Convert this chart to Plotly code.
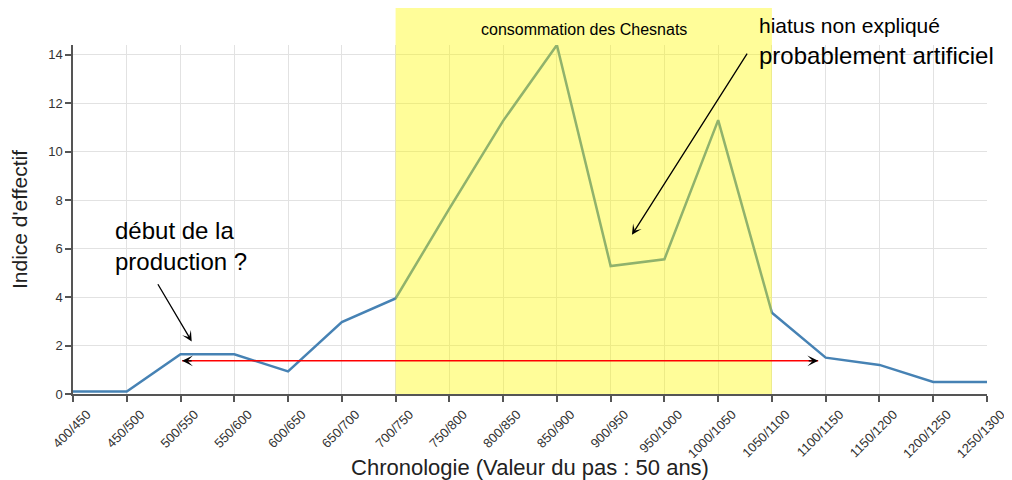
import plotly.graph_objects as go

categories = ["400/450", "450/500", "500/550", "550/600", "600/650", "650/700",
              "700/750", "750/800", "800/850", "850/900", "900/950", "950/1000",
              "1000/1050", "1050/1100", "1100/1150", "1150/1200", "1200/1250", "1250/1300"]
indice = [0.1, 0.1, 1.64, 1.64, 0.93, 2.97, 3.94, 7.65, 11.27, 14.4,
          5.28, 5.56, 11.3, 3.35, 1.5, 1.2, 0.5, 0.5]
periode_start = "700/750"
periode_end = "1050/1100"
periode_label = "consommation des Chesnats"
hiatus_lines = ["hiatus non expliqué", "probablement artificiel"]
debut_lines = ["début de la", "production ?"]

FONT = "Liberation Sans, Arial, sans-serif"
i0 = categories.index(periode_start)
i1 = categories.index(periode_end)

fig = go.Figure()
fig.add_trace(go.Scatter(x=categories, y=indice, mode="lines",
                         line=dict(color="#4682b4", width=2.5),
                         hoverinfo="x+y", showlegend=False))

fig.add_shape(type="rect", xref="x", yref="paper", x0=i0, x1=i1, y0=0, y1=1.106,
              fillcolor="rgba(255,250,0,0.40)", line=dict(width=0), layer="above")

# red double-headed span line
fig.add_shape(type="line", xref="x", yref="y", x0=2.03, x1=13.86, y0=1.37, y1=1.37,
              line=dict(color="#ff0000", width=1.4), layer="above")

annotations = []
for tip, off in [(2.03, 11), (13.86, -11)]:
    annotations.append(dict(x=tip, y=1.37, xref="x", yref="y", ax=off, ay=0,
                            showarrow=True, arrowhead=3, arrowsize=1.5, arrowwidth=1.2,
                            arrowcolor="#000", text=""))
# black pointer arrows
annotations.append(dict(x=2.208, y=2.17, ax=1.5625, ay=4.59, xref="x", yref="y",
                        axref="x", ayref="y", showarrow=True, arrowhead=3,
                        arrowsize=1.3, arrowwidth=1.3, arrowcolor="#000", text=""))
annotations.append(dict(x=10.396, y=6.57, ax=12.556, ay=14.11, xref="x", yref="y",
                        axref="x", ayref="y", showarrow=True, arrowhead=3,
                        arrowsize=1.3, arrowwidth=1.3, arrowcolor="#000", text=""))
# texts
annotations.append(dict(x=(i0 + i1) / 2, y=1.043, xref="x", yref="paper",
                        xanchor="center", yanchor="middle", showarrow=False,
                        text=periode_label, font=dict(family=FONT, size=16, color="#000")))
hiatus_text = ('<span style="font-size:21px">' + hiatus_lines[0] + "</span><br>"
               + hiatus_lines[1])
annotations.append(dict(x=12.72, y=1.010, xref="x", yref="paper", xanchor="left",
                        yanchor="middle", align="left", showarrow=False,
                        text=hiatus_text,
                        font=dict(family=FONT, size=24, color="#000")))
annotations.append(dict(x=0.745, y=6.09, xref="x", yref="y", xanchor="left",
                        yanchor="middle", align="left", showarrow=False,
                        text="<br>".join(debut_lines),
                        font=dict(family=FONT, size=24, color="#000")))

fig.update_layout(
    width=1004, height=472,
    margin=dict(l=65, r=25, t=37, b=86),
    paper_bgcolor="white", plot_bgcolor="white",
    font=dict(family=FONT, color="#333"),
    annotations=annotations,
    xaxis=dict(type="category", categoryorder="array", categoryarray=categories,
               range=[0, len(categories) - 1], showgrid=True, gridcolor="#e2e2e2",
               gridwidth=1, showline=True, linecolor="#555", linewidth=1.5,
               ticks="outside", ticklen=6, tickcolor="#555", tickwidth=1.5,
               tickangle=-45, tickfont=dict(size=13, color="#333"), automargin=False,
               ticklabelshift=14,
               title=dict(text="Chronologie (Valeur du pas : 50 ans)",
                          font=dict(size=22, color="#222"), standoff=5)),
    yaxis=dict(range=[0, 14.4], tickvals=[0, 2, 4, 6, 8, 10, 12, 14],
               showgrid=True, gridcolor="#e2e2e2", zeroline=False,
               showline=True, linecolor="#555", linewidth=1.5,
               ticks="outside", ticklen=6, tickcolor="#555", tickwidth=1.5,
               tickfont=dict(size=13, color="#333"), automargin=False,
               title=dict(text="Indice d'effectif", font=dict(size=21, color="#222"),
                          standoff=22)),
)

fig.write_html("out.html")
